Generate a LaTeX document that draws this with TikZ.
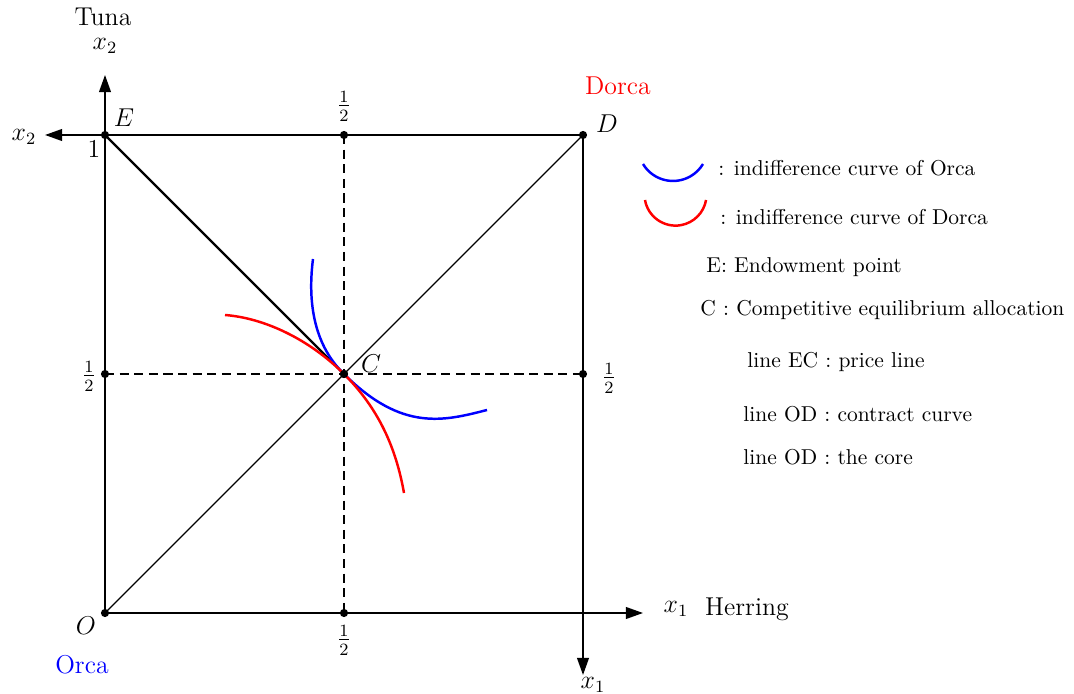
\documentclass[tikz,border=0pt]{standalone}
\usetikzlibrary{arrows.meta}
\begin{document}
\begin{tikzpicture}[x=0.465pt,y=0.465pt,
  ax/.style={line width=0.8pt,-{Triangle[length=8pt,width=5.5pt]}},
  dot/.style={circle,fill,inner sep=0pt,minimum size=3.8pt},
  dsh/.style={line width=1.1pt,dash pattern=on 4.2pt off 2.6pt},
  lbl/.style={font=\large,inner sep=0pt},
  half/.style={font=\large,inner sep=0pt},
  leg/.style={anchor=west,inner sep=0pt},
  ic/.style={line width=1.15pt}]
\useasboundingbox (0,0) rectangle (1074,693);
% main points
\node[dot] (O) at (105,80) {};
\node[dot] (D) at (583,558) {};
\node[dot] (E) at (105,558) {};
\node[dot] (C) at (344,319) {};
\node[dot] (L) at (105,319) {};
\node[dot] (R) at (583,319) {};
\node[dot] (B) at (344,80) {};
\node[dot] (T) at (344,558) {};
\coordinate (xr) at (643,80);
\coordinate (xu) at (105,618);
\coordinate (xl) at (45,558);
\coordinate (xd) at (583,18);
% axes
\draw[ax] (O.center) -- (xr);
\draw[ax] (O.center) -- (xu);
\draw[ax] (D.center) -- (xl);
\draw[ax] (D.center) -- (xd);
% dashed
\draw[dsh] (L.center) -- (R.center);
\draw[dsh] (T.center) -- (B.center);
% lines
\draw[line width=0.6pt] (O.center) -- (D.center);
\draw[line width=1pt] (E.center) -- (C.center);
% indifference curves
\draw[ic,blue] (313,434) .. controls (308,395) and (312,350) .. (C.center)
   .. controls (402,261) and (444,272) .. (487,283);
\draw[ic,red] (225,378) .. controls (264,375) and (309,354) .. (C.center)
   .. controls (379,284) and (396,245) .. (404,200);
\node[dot] at (C) {};
% labels
\node[lbl] (tuna) at (103,676) {Tuna};
\node[lbl] (x2t) at (105,647) {$x_2$};
\node[lbl] (x2l) at (24,556) {$x_2$};
\node[lbl] (lE) at (124,575) {$E$};
\node[lbl] (l1) at (94,544) {$1$};
\node[lbl] (lD) at (607,569) {$D$};
\node[lbl,red] (dorca) at (618,607) {Dorca};
\node[lbl] (lC) at (371,329) {$C$};
\node[lbl] (lO) at (86,67) {$O$};
\node[lbl,blue] (orca) at (82,28) {Orca};
\node[lbl] (x1r) at (676,84) {$x_1$};
\node[lbl] (herring) at (747,84) {Herring};
\node[lbl] (x1d) at (593,8) {$x_1$};
\node[half] (hT) at (344,587) {$\frac{1}{2}$};
\node[half] (hB) at (344,53) {$\frac{1}{2}$};
\node[half] (hL) at (89,317) {$\frac{1}{2}$};
\node[half] (hR) at (609,315) {$\frac{1}{2}$};
% legend
\draw[ic,blue] (643,529) arc[start angle=211,end angle=329,radius=35];
\draw[ic,red] (645,493) arc[start angle=190,end angle=350,radius=31];
\node[leg] (t1) at (718,525) {: indifference curve of Orca};
\node[leg] (t2) at (720,476) {: indifference curve of Dorca};
\node[leg] (t3) at (706,426) {E: Endowment point};
\node[leg] (t4) at (700,383) {C : Competitive equilibrium allocation};
\node[leg] (t5) at (747,331) {line EC : price line};
\node[leg] (t6) at (743,279) {line OD : contract curve};
\node[leg] (t7) at (743,236) {line OD : the core};
\end{tikzpicture}
\end{document}
